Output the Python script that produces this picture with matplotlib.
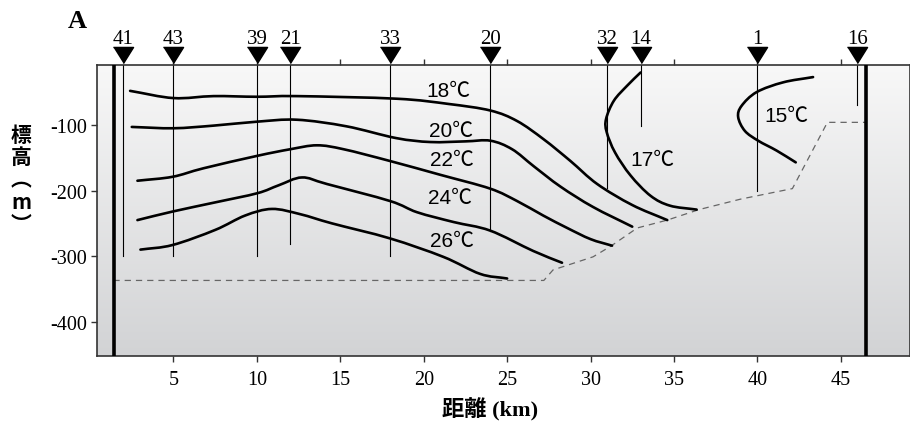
import numpy as np
import matplotlib
matplotlib.use("Agg")
import matplotlib.pyplot as plt
from matplotlib.path import Path
from matplotlib.patches import PathPatch

plt.rcParams['font.family'] = ['Liberation Serif', 'Noto Sans CJK JP']
plt.rcParams['axes.unicode_minus'] = False

# stations (km along section, bottom of cast in m)
st_names = ["41", "43", "39", "21", "33", "20", "32", "14", "1", "16"]
st_x = [2.0, 5.0, 10.0, 12.0, 18.0, 24.0, 31.0, 33.0, 40.0, 46.0]
st_bottom = [-300, -300, -300, -282, -300, -261, -196, -101, -201, -70]

# isotherms
t18_x = [2.4, 5.0, 7.4, 10.0, 12.4, 18.4, 21.5, 24.0, 25.6, 27.2, 28.8, 30.4, 32.5, 34.6]
t18_y = [-48, -59, -56, -57, -56, -60, -68, -78, -94, -122, -155, -190, -222, -245]
t20_x = [2.5, 5.0, 7.4, 10.0, 12.4, 15.36, 18.35, 20.4, 22.5, 24.0, 25.3, 26.6, 28.2, 30.15, 32.5]
t20_y = [-103, -105, -101, -95, -92, -102, -120, -126, -125, -124, -137, -163, -194, -225, -255]
t22_x = [2.84, 4.94, 6.8, 10.03, 12.0, 13.6, 15.2, 17.99, 21.0, 23.98, 25.6, 27.16, 28.6, 30.0, 31.29]
t22_y = [-185, -179, -166, -147, -137, -131, -137, -155, -176, -197, -216, -238, -257, -274, -284]
t24_x = [2.84, 4.94, 7.5, 10.03, 11.3, 12.7, 14.2, 17.99, 19.6, 21.8, 23.98, 26.56, 28.29]
t24_y = [-245, -232, -218, -204, -192, -180, -190, -216, -233, -248, -261, -292, -310]
t26_x = [3.02, 4.94, 7.5, 9.3, 10.9, 12.6, 14.5, 17.99, 21.17, 23.38, 25.0]
t26_y = [-290, -283, -260, -238, -228, -236, -250, -273, -301, -327, -334]
t17_x = [33.0, 32.2, 31.4, 30.93, 30.97, 31.47, 32.4, 33.6, 34.76, 36.36]
t17_y = [-20, -40, -63, -91, -111, -142, -177, -208, -223, -229]
t15_x = [43.34, 41.55, 39.95, 39.05, 38.85, 39.25, 40.05, 41.15, 42.3]
t15_y = [-27, -35, -50, -71, -88, -109, -124, -139, -157]

iso_x = [t18_x, t20_x, t22_x, t24_x, t26_x, t17_x, t15_x]
iso_y = [t18_y, t20_y, t22_y, t24_y, t26_y, t17_y, t15_y]

iso_labels = ["18℃", "20℃", "22℃", "24℃", "26℃", "17℃", "15℃"]
lab_x = [21.5, 21.65, 21.7, 21.6, 21.7, 33.74, 41.77]
lab_y = [-48, -108, -152, -210, -276, -152, -86]

# sea floor (dashed)
floor_x = [1.4, 27.2, 27.75, 30.15, 31.2, 32.8, 34.6, 36.5, 39.0, 42.1, 44.2, 46.5]
floor_y = [-337, -337, -321, -301, -285, -257, -245, -229, -213, -197, -96, -96]

walls = [1.43, 46.54]


def smooth_path(xs, ys):
    # cubic bezier through the points (catmull-rom control points)
    p = np.column_stack([xs, ys]).astype(float)
    p = np.vstack([2 * p[0] - p[1], p, 2 * p[-1] - p[-2]])
    verts = [p[1]]
    codes = [Path.MOVETO]
    for i in range(1, len(p) - 2):
        c1 = p[i] + (p[i + 1] - p[i - 1]) / 6
        c2 = p[i + 1] - (p[i + 2] - p[i]) / 6
        verts += [c1, c2, p[i + 1]]
        codes += [Path.CURVE4] * 3
    return Path(verts, codes)


fig = plt.figure(figsize=(9.1, 4.31), dpi=100)
ax = fig.add_axes([0.1063, 0.1724, 0.8937, 0.6752])
ax.set_xlim(0.4, 49.15)
ax.set_ylim(-451.7, -8.1)

# background gradient
grad = np.linspace(0, 1, 256).reshape(-1, 1)
cmap = matplotlib.colors.LinearSegmentedColormap.from_list("bg", ["#f8f8f8", "#d2d3d5"])
ax.imshow(grad, extent=[0.4, 49.15, -451.7, -8.1], aspect="auto", cmap=cmap,
          origin="upper", zorder=0)

for x, b in zip(st_x, st_bottom):
    ax.plot([x, x], [-8.1, b], color="black", lw=0.8, zorder=2)

for w in walls:
    ax.axvline(w, color="black", lw=2.6, zorder=3)

ax.plot(floor_x, floor_y, color="#666666", lw=0.9, ls=(0, (5, 4)), zorder=2)

for xs, ys in zip(iso_x, iso_y):
    ax.add_patch(PathPatch(smooth_path(xs, ys), fill=False, edgecolor="black",
                           lw=1.9, capstyle="round", joinstyle="round", zorder=4))

for t, x, y in zip(iso_labels, lab_x, lab_y):
    ax.text(x, y, t, ha="center", va="center", fontsize=15,
            family=["Liberation Sans", "Noto Sans CJK JP"], zorder=5)

# station markers above the frame
tri = [(-1, 0.8), (1, 0.8), (0, -0.8)]
trans = ax.get_xaxis_transform()
ax.plot(st_x, [1.034] * len(st_x), ls="none", marker=tri, ms=14.5, color="black",
        transform=trans, clip_on=False, zorder=6)
for n, x in zip(st_names, st_x):
    ax.text(x, 1.09, n, transform=trans, ha="center", va="center", fontsize=15)

ax.set_xticks([5, 10, 15, 20, 25, 30, 35, 40, 45])
ax.set_yticks([-100, -200, -300, -400])
ax.tick_params(axis="both", direction="out", length=4, width=1, labelsize=14.5, color="#333333")
ax.tick_params(axis="x", top=True, pad=6)
ax.tick_params(axis="y", pad=3)
for s in ax.spines.values():
    s.set_color("#333333")
    s.set_linewidth(1.2)

fig.text(0.1063 + 0.8937 * (490 - 96.7) / 813.3, 1 - 410 / 431, "距離 (km)",
         ha="center", va="center", fontsize=16, fontweight="bold")
fig.text(21 / 910, 1 - 180 / 431, "標\n高\n︵\nm\n︶", ha="center", va="center",
         fontsize=15, fontweight="bold", linespacing=1.08,
         family=["Noto Sans CJK JP", "DejaVu Sans"])
fig.text(77 / 910, 1 - 22 / 431, "A", ha="center", va="center", fontsize=19,
         fontweight="bold")

fig.savefig("out.png", dpi=100)
